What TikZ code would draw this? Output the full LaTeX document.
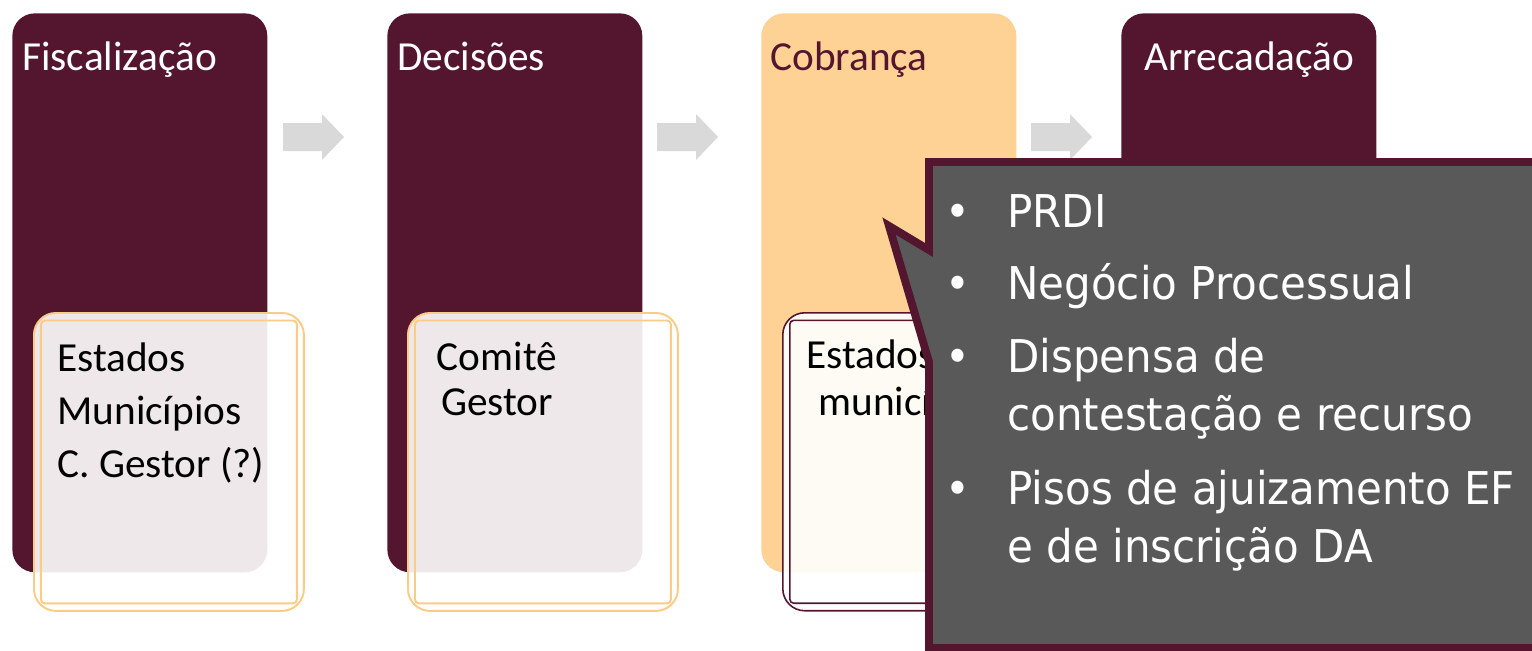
\documentclass[tikz,border=0pt]{standalone}
\usepackage{fontspec}
\setmainfont{Carlito}
\newfontfamily\balaofont{DejaVu Sans}[FakeStretch=0.93]
\usetikzlibrary{positioning,calc}
\definecolor{vinho}{HTML}{54162F}
\definecolor{pessego}{HTML}{FDD294}
\definecolor{contorno}{HTML}{FCCB86}
\definecolor{cinzaseta}{HTML}{D9D9D9}
\definecolor{cinzabalao}{HTML}{595959}

\tikzset{
  etapa/.style={anchor=north west, rounded corners=0.45cm, minimum width=5.1cm, minimum height=11.18cm, inner sep=0pt},
  titulo/.style={anchor=base west, font=\fontsize{23.5}{28}\selectfont, inner sep=0pt, text=white},
  caixa/.style={draw=contorno, line width=1.1pt, fill=white, fill opacity=0.9, rounded corners=0.44cm, anchor=north west, minimum width=5.4cm, minimum height=5.96cm, inner sep=0pt},
  moldura/.style={draw=contorno, line width=1.1pt, rounded corners=0.08cm, minimum width=5.12cm, minimum height=5.66cm, inner sep=0pt},
  texto/.style={inner sep=0pt, font=\fontsize{23.5}{30}\selectfont},
  seta/.style={fill=cinzaseta},
  item/.style={anchor=base west, text=white, font=\balaofont\fontsize{25.7}{32.9}\selectfont, inner sep=0pt, align=left},
  marca/.style={anchor=base, text=white, font=\balaofont\fontsize{25.7}{32.9}\selectfont, inner sep=0pt}
}

\begin{document}
\begin{tikzpicture}[x=0.02cm,y=-0.02cm]
\clip (0,0) rectangle (1532,650);

% etapas
\node[etapa, fill=vinho] (fisc) at (12,13) {};
\node[etapa, fill=vinho] (deci) at (387,13) {};
\node[etapa, fill=pessego] (cobr) at (761,13) {};
\node[etapa, fill=vinho] (arre) at (1121,13) {};

\node[titulo] (tfisc) at (22,70) {Fiscalização};
\node[titulo] (tdeci) at (397,70) {Decisões};
\node[titulo, text=vinho] (tcobr) at (770,70) {Cobrança};
\node[titulo] (tarre) at (1144,70) {Arrecadação};

% setas entre etapas
\foreach \x in {283,657,1031}{
  \fill[seta] (\x,123) -- (\x+39,123) -- (\x+39,114) -- (\x+61,137)
    -- (\x+39,160) -- (\x+39,151) -- (\x,151) -- cycle;
}

% caixas internas
\node[caixa] (cfisc) at (33,312) {};
\node[moldura] (mfisc) at (cfisc.center) {};
\node[caixa] (cdeci) at (407,312) {};
\node[moldura] (mdeci) at (cdeci.center) {};
\node[caixa, draw=vinho, line width=0.9pt] (ccobr) at (782,312) {};
\node[moldura, draw=vinho, line width=0.9pt] (mcobr) at (ccobr.center) {};

% ancorado na ultima linha
\node[texto, anchor=base west, align=left] (xfisc) at (57,477) {Estados\\Municípios\\C. Gestor (?)};
\node[texto, anchor=base, align=center, font=\fontsize{23.5}{25.5}\selectfont] (xdeci) at (497,415) {Comitê\\Gestor};
\node[texto, anchor=base west] (xcobr1) at (806,368) {Estados};
\node[texto, anchor=base west] (xcobr2) at (818,415) {municípios};

% balao
\coordinate (ponta) at (889,226);
\draw[vinho, line width=4.5pt, fill=cinzabalao] (929,162) -- (1545,162) -- (1545,648)
  -- (929,648) -- (929,362) -- (ponta) -- (929,250) -- cycle;

\foreach \y in {227,299,372,504}{
  \node[marca] at (958,\y) {•};
}
\node[item] (i1) at (1007,227) {PRDI};
\node[item] (i2) at (1007,299) {Negócio Processual};
\node[item] (i3) at (1007,430) {Dispensa de\\contestação e recurso};
\node[item] (i4) at (1007,562) {Pisos de ajuizamento EF\\e de inscrição DA};
\end{tikzpicture}
\end{document}
